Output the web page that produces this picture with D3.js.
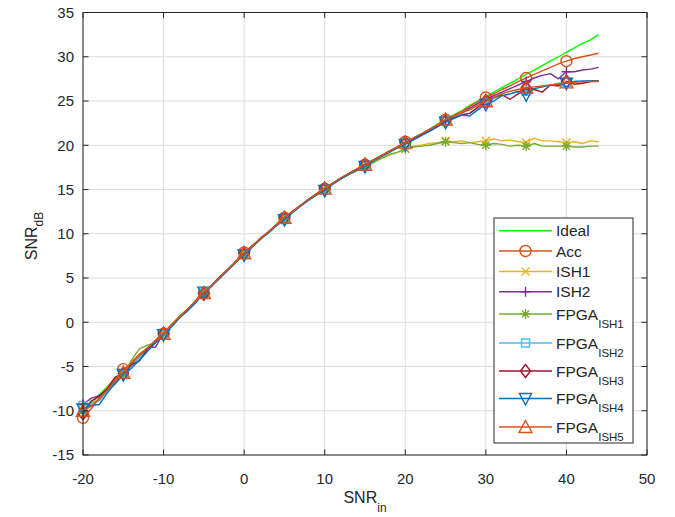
<!DOCTYPE html>
<html><head><meta charset="utf-8">
<script src="https://cdn.jsdelivr.net/npm/d3@7/dist/d3.min.js"></script>
<style>body{margin:0;background:#fff}svg{display:block}text{font-family:"Liberation Sans",Arial,Helvetica,sans-serif;fill:#262626}</style>
</head><body><svg id="c" width="675" height="517"></svg>
<script>
// ---- data ----
const snrIn = [-20,-19,-18,-17,-16,-15,-14,-13,-12,-11,-10,-9,-8,-7,-6,-5,-4,-3,-2,-1,0,1,2,3,4,5,6,7,8,9,10,11,12,13,14,15,16,17,18,19,20,21,22,23,24,25,26,27,28,29,30,31,32,33,34,35,36,37,38,39,40,41,42,43,44];
const ideal = [-10.0,-9.1,-8.2,-7.3,-6.4,-5.5,-4.6,-3.8,-2.9,-2.1,-1.2,-0.3,0.6,1.5,2.4,3.3,4.2,5.1,6.0,6.9,7.8,8.6,9.4,10.2,11.0,11.8,12.5,13.2,13.9,14.5,15.1,15.7,16.3,16.8,17.3,17.8,18.3,18.8,19.3,19.8,20.3,20.8,21.3,21.8,22.4,22.9,23.4,23.9,24.5,25.0,25.5,26.0,26.5,27.0,27.5,28.0,28.5,29.0,29.5,30.0,30.5,31.0,31.5,31.9,32.5];
const acc = [-10.8,-9.8,-8.6,-7.5,-6.5,-5.3,-4.7,-3.7,-3.0,-2.0,-1.3,-0.4,0.5,1.4,2.5,3.3,4.1,5.2,6.0,6.9,7.9,8.6,9.5,10.2,11.0,11.8,12.5,13.2,13.9,14.5,15.1,15.7,16.3,16.8,17.3,17.8,18.3,18.8,19.3,19.8,20.4,20.8,21.3,21.8,22.3,22.9,23.4,23.8,24.4,24.9,25.4,25.8,26.3,26.7,27.2,27.6,28.0,28.4,28.8,29.2,29.5,29.8,30.0,30.2,30.4];
const ish1 = [-9.6,-9.0,-8.4,-7.4,-6.2,-5.7,-4.5,-3.6,-3.1,-2.2,-1.2,-0.2,0.7,1.5,2.3,3.4,4.2,5.0,6.0,6.9,7.7,8.6,9.4,10.2,11.0,11.7,12.5,13.2,13.8,14.5,15.0,15.7,16.2,16.7,17.2,17.6,18.1,18.6,19.0,19.2,19.6,19.9,20.0,20.2,20.3,20.5,20.4,20.5,20.3,20.4,20.5,20.7,20.5,20.6,20.4,20.3,20.8,20.5,20.5,20.4,20.3,20.4,20.2,20.5,20.4];
const ish2 = [-9.3,-8.6,-8.3,-7.6,-6.6,-5.6,-4.9,-4.0,-2.9,-2.8,-1.2,-0.3,0.6,1.4,2.4,3.3,4.2,5.1,5.9,6.8,7.8,8.6,9.4,10.2,11.0,11.8,12.5,13.2,13.9,14.5,15.1,15.7,16.2,16.8,17.3,17.8,18.3,18.8,19.3,19.7,20.3,20.7,21.2,21.6,22.2,22.8,23.2,23.6,24.2,24.7,25.2,25.6,26.0,26.4,26.8,27.2,27.6,27.9,28.1,27.5,28.3,28.3,28.5,28.6,28.8];
const fpgaIsh1 = [-10.0,-9.2,-8.7,-7.6,-7.0,-5.9,-4.3,-3.0,-2.6,-2.3,-1.3,-0.3,0.7,1.5,2.4,3.3,4.1,5.0,6.0,6.8,7.7,8.6,9.4,10.1,10.9,11.7,12.4,13.2,13.8,14.4,15.0,15.6,16.2,16.7,17.1,17.5,18.0,18.5,18.9,19.2,19.6,19.8,19.9,20.0,20.2,20.4,20.3,20.2,20.3,20.1,20.0,20.2,20.1,19.9,20.0,19.9,20.2,19.9,19.9,19.9,19.9,19.8,19.8,19.9,19.9];
const fpgaIsh2 = [-9.4,-9.2,-8.9,-7.8,-6.8,-5.9,-5.0,-4.0,-3.1,-2.2,-1.3,-0.4,0.5,1.4,2.3,3.3,4.1,5.0,5.9,6.8,7.7,8.5,9.3,10.1,10.9,11.6,12.4,13.1,13.8,14.4,15.0,15.6,16.2,16.7,17.2,17.7,18.2,18.7,19.2,19.7,20.2,20.7,21.2,21.7,22.2,22.7,23.2,23.5,23.6,24.2,24.8,25.3,25.6,25.8,26.0,26.1,26.4,26.6,26.8,27.0,27.1,27.2,27.3,27.3,27.3];
const fpgaIsh3 = [-10.3,-8.9,-8.4,-7.5,-6.2,-5.8,-4.8,-4.4,-3.0,-2.3,-1.3,-0.3,0.6,1.5,2.4,3.2,4.2,5.1,6.0,6.9,7.8,8.6,9.4,10.2,11.0,11.8,12.5,13.2,13.9,14.5,15.1,15.7,16.3,16.8,17.3,17.8,18.3,18.8,19.3,19.8,20.3,20.7,21.2,21.6,22.1,22.7,23.1,23.4,23.6,24.3,25.0,25.4,25.7,25.2,25.8,26.5,26.3,26.0,26.8,26.7,27.2,26.9,27.0,27.2,27.3];
const fpgaIsh4 = [-9.8,-9.4,-9.3,-8.0,-6.9,-5.9,-5.2,-4.3,-3.3,-2.3,-1.4,-0.5,0.5,1.3,2.2,3.4,4.2,5.0,5.9,6.8,7.6,8.5,9.4,10.1,10.9,11.6,12.4,13.1,13.8,14.4,14.9,15.6,16.2,16.7,17.2,17.6,18.2,18.7,19.2,19.7,20.1,20.6,21.1,21.6,22.1,22.6,23.0,23.4,23.3,24.0,24.6,25.0,25.6,25.8,26.1,25.7,26.4,26.6,26.8,26.9,27.0,27.2,27.2,27.3,27.3];
const fpgaIsh5 = [-10.0,-9.5,-8.7,-7.7,-6.6,-5.7,-4.6,-3.6,-2.9,-2.1,-1.3,-0.3,0.6,1.5,2.4,3.3,4.2,5.1,6.0,6.9,7.8,8.6,9.4,10.2,11.0,11.8,12.5,13.2,13.9,14.5,15.1,15.7,16.3,16.8,17.3,17.8,18.3,18.8,19.3,19.8,20.3,20.8,21.3,21.8,22.3,22.9,23.3,23.7,24.0,24.5,25.0,25.4,25.8,26.1,26.3,26.5,26.6,26.7,26.8,26.9,27.1,27.1,27.2,27.2,27.2];
const legendMain = ["Ideal","Acc","ISH1","ISH2","FPGA","FPGA","FPGA","FPGA","FPGA"];
const legendSub  = ["","","","","ISH1","ISH2","ISH3","ISH4","ISH5"];
const xTicks = [-20,-10,0,10,20,30,40,50];
const yTicks = [-15,-10,-5,0,5,10,15,20,25,30,35];

// ---- styles ----
const seriesValues = [ideal,acc,ish1,ish2,fpgaIsh1,fpgaIsh2,fpgaIsh3,fpgaIsh4,fpgaIsh5];
const colors = ["#00ff00","#D95319","#EDB120","#7E2F8E","#77AC30","#4DBEEE","#A2142F","#0072BD","#D95319"];
const markers = ["none","circle","x","plus","star","square","diamond","tridown","triup"];

const svg = d3.select("#c");
const L=83, R=647, T=12.5, B=455;
const x = d3.scaleLinear().domain([-20,50]).range([L,R]);
const y = d3.scaleLinear().domain([-15,35]).range([B,T]);
const axisCol="#262626";

// grid
const g = svg.append("g");
g.selectAll(".gx").data(xTicks).join("line").attr("x1",d=>x(d)).attr("x2",d=>x(d)).attr("y1",T).attr("y2",B)
  .attr("stroke","#dcdcdc").attr("stroke-width",1);
g.selectAll(".gy").data(yTicks).join("line").attr("y1",d=>y(d)).attr("y2",d=>y(d)).attr("x1",L).attr("x2",R)
  .attr("stroke","#dcdcdc").attr("stroke-width",1);

function markerPath(m){
  switch(m){
    case "circle": return d3.symbol(d3.symbolCircle, Math.PI*5.5*5.5)();
    case "x": return "M-4,-4L4,4M-4,4L4,-4";
    case "plus": return "M-5,0L5,0M0,-5L0,5";
    case "star": return "M-5,0L5,0M0,-5L0,5M-3.6,-3.6L3.6,3.6M-3.6,3.6L3.6,-3.6";
    case "square": return "M-4,-4L4,-4L4,4L-4,4Z";
    case "diamond": return "M0,-6.5L5,0L0,6.5L-5,0Z";
    case "tridown": return "M0,6.5L6,-5L-6,-5Z";
    case "triup": return "M0,-6.5L6.5,5.5L-6.5,5.5Z";
  }
  return null;
}

const line = d3.line().x((d,i)=>x(snrIn[i])).y(d=>y(d));
const plot = svg.append("g");
seriesValues.forEach((vals,k)=>{
  plot.append("path").attr("d",line(vals)).attr("fill","none").attr("stroke",colors[k]).attr("stroke-width",1.4).attr("stroke-linejoin","round");
  const mp = markerPath(markers[k]);
  if(mp){
    const idx = snrIn.map((v,i)=>i).filter(i=>i%5===0);
    plot.selectAll(null).data(idx).join("path").attr("d",mp)
      .attr("transform",i=>`translate(${x(snrIn[i])},${y(vals[i])})`)
      .attr("fill","none").attr("stroke",colors[k]).attr("stroke-width",1.4);
  }
});

// axes box
const ax = svg.append("g");
ax.append("rect").attr("x",L).attr("y",T).attr("width",R-L).attr("height",B-T).attr("fill","none").attr("stroke",axisCol).attr("stroke-width",1);
const tl=5.5;
ax.selectAll(".tx").data(xTicks).join("path").attr("d",d=>`M${x(d)},${B}v${-tl}M${x(d)},${T}v${tl}`).attr("stroke",axisCol);
ax.selectAll(".ty").data(yTicks).join("path").attr("d",d=>`M${L},${y(d)}h${tl}M${R},${y(d)}h${-tl}`).attr("stroke",axisCol);
ax.selectAll(".lx").data(xTicks).join("text").attr("x",d=>x(d)).attr("y",484).attr("text-anchor","middle")
  .attr("font-size",15).text(d=>d);
ax.selectAll(".ly").data(yTicks).join("text").attr("x",L-9).attr("y",d=>y(d)+5.3).attr("text-anchor","end")
  .attr("font-size",15).text(d=>d);

// axis labels
const xl = ax.append("text").attr("x",365).attr("y",503).attr("text-anchor","middle").attr("font-size",16);
xl.append("tspan").text("SNR");
xl.append("tspan").attr("font-size",12).attr("dy",9).text("in");
const yl = ax.append("text").attr("transform","translate(37,236) rotate(-90)").attr("text-anchor","middle").attr("font-size",16);
yl.append("tspan").text("SNR");
yl.append("tspan").attr("font-size",12).attr("dy",6).text("dB");

// legend
const lg = svg.append("g");
const rowY = [230.7,251,271.5,291.8,314,343,371,398.5,427];
lg.append("rect").attr("x",494).attr("y",218).attr("width",139).attr("height",225).attr("fill","#fff").attr("stroke",axisCol).attr("stroke-width",1);
legendMain.forEach((t,k)=>{
  const yy=rowY[k];
  lg.append("line").attr("x1",499).attr("x2",552).attr("y1",yy).attr("y2",yy).attr("stroke",colors[k]).attr("stroke-width",1.4);
  const mp=markerPath(markers[k]);
  if(mp) lg.append("path").attr("d",mp).attr("transform",`translate(525.5,${yy})`).attr("fill","none").attr("stroke",colors[k]).attr("stroke-width",1.4);
  const tx = lg.append("text").attr("x",556).attr("y",yy+5.5).attr("font-size",15.5);
  tx.append("tspan").text(t);
  if(legendSub[k]) tx.append("tspan").attr("font-size",11.5).attr("dy",8).text(legendSub[k]);
});
</script></body></html>
